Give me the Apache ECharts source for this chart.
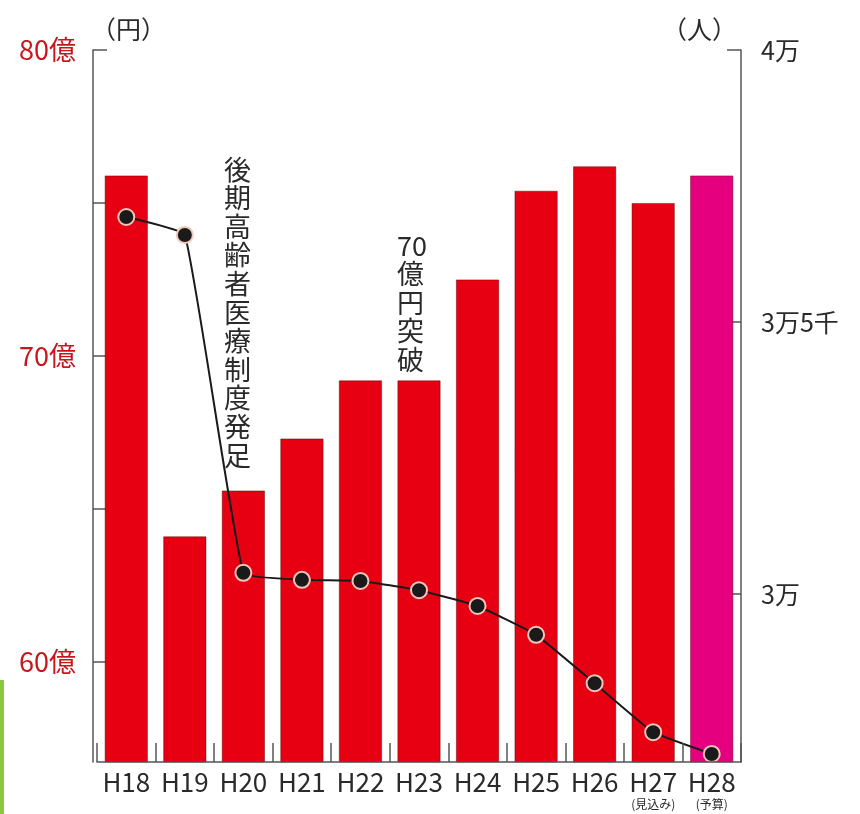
<!DOCTYPE html>
<html>
<head>
<meta charset="utf-8">
<script src="https://cdn.jsdelivr.net/npm/echarts@6/dist/echarts.min.js"></script>
<style>
html,body{margin:0;padding:0;background:#fff;}
#chart{width:860px;height:814px;}
</style>
</head>
<body>
<div id="chart"></div>
<script>
// 年度
var years = ['H18','H19','H20','H21','H22','H23','H24','H25','H26','H27','H28'];
var yearNotes = ['','','','','','','','','','(見込み)','(予算)'];
// 医療費（億円）
var costs = [75.9, 64.1, 65.6, 67.3, 69.2, 69.2, 72.5, 75.4, 76.2, 75.0, 75.9];
// 被保険者数（人）
var people = [36930, 36600, 30390, 30260, 30240, 30070, 29780, 29250, 28360, 27460, 27060];
// 目盛
var leftLabels = [60, 70, 80];
var leftTicks = [60, 65, 70, 75, 80];
var rightLabels = [30000, 35000, 40000];
var rightLabelText = {30000:'3万', 35000:'3万5千', 40000:'4万'};
var notes = ['後期高齢者医療制度発足', '70億円突破'];

var font = '"Noto Sans CJK JP", "Noto Sans", sans-serif';
var red = '#e60012';
var pink = '#e4007f';

var chart = echarts.init(document.getElementById('chart'));

var barData = costs.map(function(v, i){
	return {
		value: v,
		itemStyle: { color: i == costs.length - 1 ? pink : red }
	};
});

var option = {
	animation: false,
	textStyle: { fontFamily: font },
	grid: { left: 97, right: 119, top: 50, bottom: 52 },
	xAxis: {
		type: 'category',
		data: years,
		z: 5,
		axisLine: { lineStyle: { color: '#555', width: 1.5 } },
		axisTick: { show: true, inside: true, interval: 0, length: 19, lineStyle: { color: '#555', width: 1.5 } },
		axisLabel: {
			interval: 0,
			margin: 5,
			formatter: function(v, i){
				return yearNotes[i] ? '{a|' + v + '}\n{b|' + yearNotes[i] + '}' : '{a|' + v + '}';
			},
			rich: {
				a: { fontSize: 26, color: '#2a2a2a', fontFamily: font, lineHeight: 30 },
				b: { fontSize: 12, color: '#2a2a2a', fontFamily: font, lineHeight: 14 }
			}
		}
	},
	yAxis: [{
		type: 'value',
		min: 56.72,
		max: 80,
		offset: 4,
		name: '（円）',
		nameLocation: 'end',
		nameGap: 8,
		nameTextStyle: { fontSize: 25, color: '#2a2a2a', align: 'left', padding: [0, 0, 0, -2] },
		splitLine: { show: false },
		axisLine: { show: true, lineStyle: { color: '#555', width: 1.5 } },
		axisTick: { show: true, inside: true, length: 14, customValues: leftTicks, lineStyle: { color: '#555', width: 1.5 } },
		axisLabel: {
			customValues: leftLabels,
			margin: 17,
			fontSize: 27,
			color: '#c8161d',
			formatter: function(v){ return v + '億'; }
		}
	}, {
		type: 'value',
		min: 26912,
		max: 40000,
		name: '（人）',
		nameLocation: 'end',
		nameGap: 8,
		nameTextStyle: { fontSize: 25, color: '#2a2a2a', align: 'right', padding: [0, 4, 0, 0] },
		splitLine: { show: false },
		axisLine: { show: true, lineStyle: { color: '#555', width: 1.5 } },
		axisTick: { show: true, inside: true, length: 14, customValues: rightLabels, lineStyle: { color: '#555', width: 1.5 } },
		axisLabel: {
			customValues: rightLabels,
			margin: 20,
			fontSize: 25,
			color: '#2a2a2a',
			formatter: function(v){ return rightLabelText[v] || ''; }
		}
	}],
	series: [{
		type: 'bar',
		yAxisIndex: 0,
		data: barData,
		barCategoryGap: '26%',
		itemStyle: { borderColor: 'rgba(90,0,0,0.45)', borderWidth: 1 }
	}, {
		type: 'line',
		yAxisIndex: 1,
		data: people,
		smooth: 0.1,
		symbol: 'circle',
		symbolSize: 16,
		lineStyle: { color: '#1a1a1a', width: 2 },
		itemStyle: { color: '#1a1a1a', borderColor: '#f3c6bb', borderWidth: 2 }
	}],
	graphic: [{
		type: 'text',
		left: 224,
		top: 155,
		style: {
			text: notes[0].split('').join('\n'),
			font: '27px ' + font,
			lineHeight: 28.6,
			fill: '#2a2a2a',
			align: 'center'
		}
	}, {
		type: 'text',
		left: 397,
		top: 231,
		style: {
			text: ['70'].concat(notes[1].replace('70', '').split('')).join('\n'),
			font: '27px ' + font,
			lineHeight: 28.6,
			fill: '#2a2a2a',
			align: 'center'
		}
	}, {
		type: 'rect',
		left: 0,
		top: 680,
		shape: { width: 4, height: 134 },
		style: { fill: '#8dc63f' }
	}]
};

chart.setOption(option);
</script>
</body>
</html>
